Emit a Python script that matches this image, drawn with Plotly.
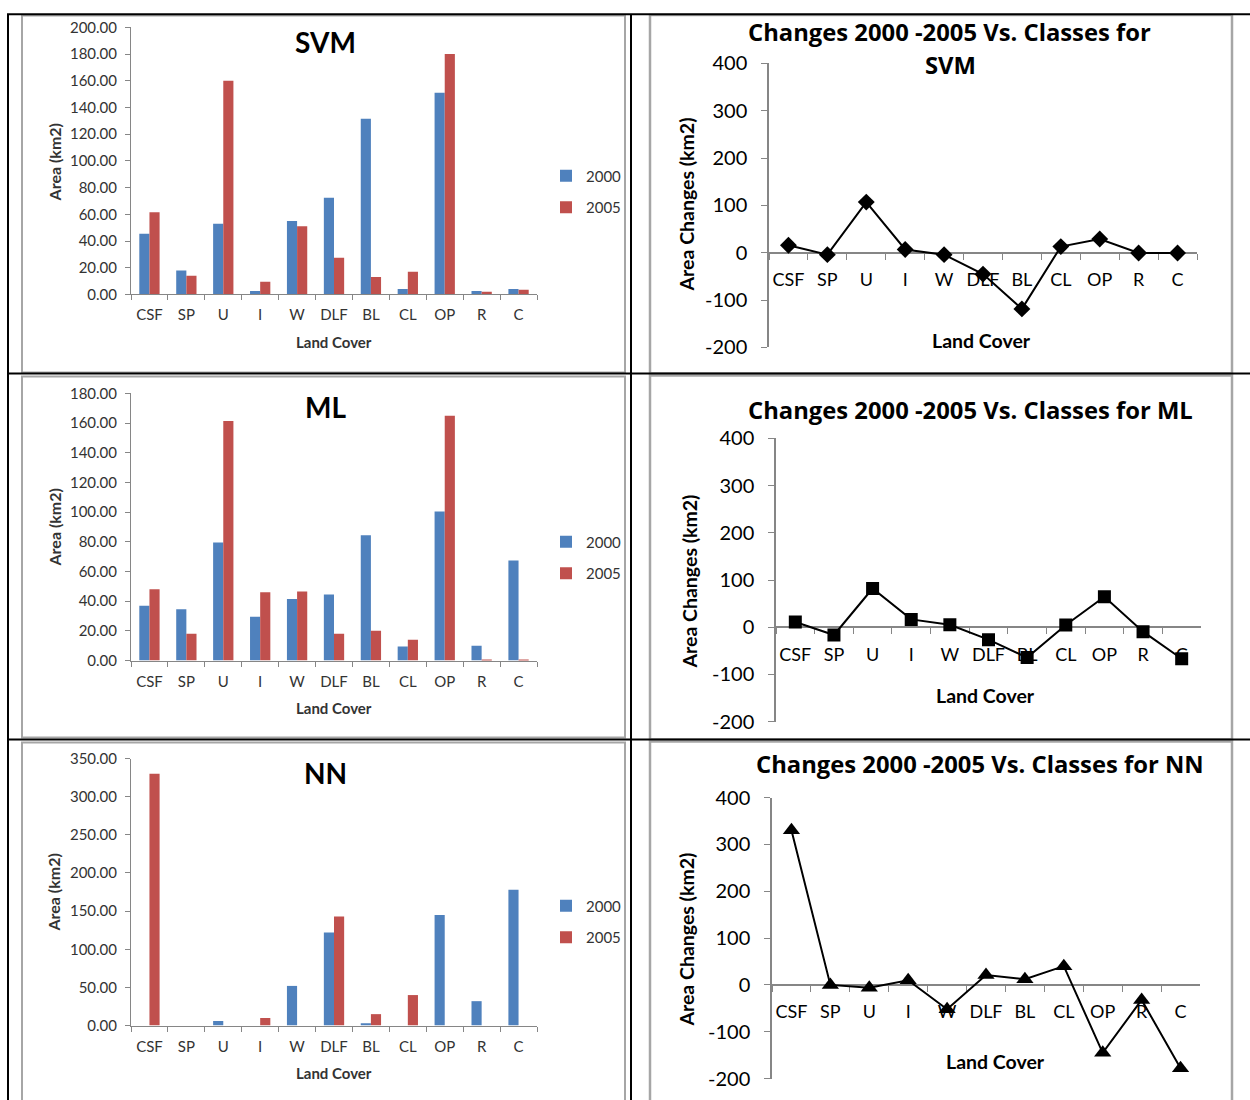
import plotly.graph_objects as go

W, H = 1250, 1100
# measured page placement of the figure in the photographed window
OFF_Y, SCALE_Y = 12.6, 0.978

classes = ["CSF", "SP", "U", "I", "W", "DLF", "BL", "CL", "OP", "R", "C"]

svm_2000 = [45.5, 18.0, 53.0, 2.5, 55.0, 72.5, 131.5, 4.0, 151.0, 2.5, 4.0]
svm_2005 = [61.5, 14.0, 160.0, 9.5, 51.0, 27.5, 13.0, 17.0, 180.0, 2.0, 3.5]
ml_2000 = [37.0, 34.5, 79.5, 29.5, 41.5, 44.5, 84.5, 9.5, 100.5, 10.0, 67.5]
ml_2005 = [48.0, 18.0, 161.5, 46.0, 46.5, 18.0, 20.0, 14.0, 165.0, 0.5, 0.5]
nn_2000 = [0.0, 0.0, 6.0, 0.0, 52.0, 122.0, 3.0, 0.0, 145.0, 32.0, 178.0]
nn_2005 = [330.0, 0.0, 0.0, 10.0, 0.0, 143.0, 15.0, 40.0, 0.0, 0.0, 0.0]

svm_change = [16.0, -4.0, 107.0, 7.0, -4.0, -45.0, -118.5, 13.0, 29.0, -0.5, -0.5]
ml_change = [11.0, -16.5, 82.0, 16.5, 5.0, -26.5, -64.5, 4.5, 64.5, -9.5, -67.0]
nn_change = [330.0, 0.0, -6.0, 10.0, -52.0, 21.0, 12.0, 40.0, -145.0, -32.0, -178.0]

change_ticks = [-200, -100, 0, 100, 200, 300, 400]
change_ticktext = ["-200", "-100", "0", "100", "200", "300", "400"]

FONT = "Lato"
TFONT = "Open Sans"
BLUE = "#4F81BD"
RED = "#C0504D"
AX = "#868686"


def px_x(x):
    return x / W


def px_y(y):
    return 1 - ((y - OFF_Y) / SCALE_Y) / H


fig = go.Figure()

bar_sets = [
    ("SVM", svm_2000, svm_2005, [0, 200], 20, (27, 294), "legend", 191),
    ("ML", ml_2000, ml_2005, [0, 180], 20, (393, 660), "legend2", 557),
    ("NN", nn_2000, nn_2005, [0, 350], 50, (758, 1025), "legend3", 921),
]
line_sets = [
    ("SVM", svm_change, "diamond", 13, (769, 1197), (63, 347)),
    ("ML", ml_change, "square", 13, (776, 1201), (438, 721)),
    ("NN", nn_change, "triangle-up", 15, (772, 1200), (797, 1078)),
]

layout = dict(
    width=W, height=H, autosize=False,
    margin=dict(l=0, r=0, t=0, b=0),
    paper_bgcolor="white", plot_bgcolor="white",
    barmode="group", bargap=0.45, bargroupgap=0.0,
    font=dict(family=FONT, color="#333333"),
    showlegend=True,
)

annotations = []


def note(text, x, y, size, color="black", angle=0, family=FONT):
    return dict(text=text, x=px_x(x), y=px_y(y), xref="paper", yref="paper",
                xanchor="center", yanchor="middle", showarrow=False,
                textangle=angle, font=dict(family=family, size=size, color=color))


for i, (name, a, b, yr, dt, (y0, y1), leg, legy) in enumerate(bar_sets):
    n = 2 * i + 1
    xa, ya = f"x{n}", f"y{n}"
    fig.add_trace(go.Bar(x=classes, y=a, name="2000", marker_color=BLUE,
                         marker_line_width=0, xaxis=xa, yaxis=ya,
                         legend=leg, legendgroup=f"a{i}"))
    fig.add_trace(go.Bar(x=classes, y=b, name="2005", marker_color=RED,
                         marker_line_width=0, xaxis=xa, yaxis=ya,
                         legend=leg, legendgroup=f"b{i}"))
    layout[f"xaxis{n}"] = dict(
        domain=[px_x(131), px_x(537)], anchor=ya, type="category",
        range=[-0.5, 10.5], showline=True, linecolor=AX, linewidth=1,
        ticks="outside", tickson="boundaries", ticklen=5, tickcolor=AX,
        tickangle=0,
        tickfont=dict(family=FONT, size=15, color="#333333"),
        ticklabelstandoff=7, showgrid=False, zeroline=False, fixedrange=True)
    layout[f"yaxis{n}"] = dict(
        domain=[px_y(y1), px_y(y0)], anchor=xa, range=yr, dtick=dt,
        tick0=0, tickformat=".2f", showline=True, linecolor=AX, linewidth=1,
        ticks="outside", ticklen=5, tickcolor=AX,
        tickfont=dict(family=FONT, size=15, color="#333333"),
        ticklabelstandoff=5, showgrid=False, zeroline=False, fixedrange=True)
    layout[leg] = dict(
        x=px_x(546), y=px_y(legy), xanchor="left", yanchor="middle",
        bgcolor="rgba(0,0,0,0)", traceorder="grouped", tracegroupgap=9,
        font=dict(family=FONT, size=15, color="#333333"), itemwidth=30)
    annotations.append(note(f"<b>{name}</b>", 325, [42, 407, 772][i], 28))
    annotations.append(note("<b>Area (km2)</b>", 54, [162, 527, 892][i], 16,
                            "#333333", -90))
    annotations.append(note("<b>Land Cover</b>", 334, [342, 707, 1072][i], 15,
                            "#333333"))

for i, (name, vals, sym, msize, (x0, x1), (y0, y1)) in enumerate(line_sets):
    n = 2 * i + 2
    xa, ya = f"x{n}", f"y{n}"
    fig.add_trace(go.Scatter(x=classes, y=vals, mode="lines+markers",
                             line=dict(color="black", width=2),
                             marker=dict(symbol=sym, size=msize, color="black"),
                             xaxis=xa, yaxis=ya, showlegend=False))
    d0, d1 = px_y(y1), px_y(y0)
    yr = [-200, 400]
    zpos = d0 + (0 - yr[0]) / (yr[1] - yr[0]) * (d1 - d0)
    layout[f"xaxis{n}"] = dict(
        domain=[px_x(x0), px_x(x1)], anchor="free", position=zpos,
        type="category", range=[-0.5, 10.5], showline=True, linecolor=AX,
        linewidth=1.5, ticks="outside", tickson="boundaries", ticklen=6,
        tickcolor=AX, tickangle=0,
        tickfont=dict(family=FONT, size=18, color="black"),
        ticklabelstandoff=11, showgrid=False, zeroline=False,
        layer="below traces", fixedrange=True)
    layout[f"yaxis{n}"] = dict(
        domain=[d0, d1], anchor=xa, range=yr, tickvals=change_ticks,
        ticktext=change_ticktext, showline=True, linecolor=AX, linewidth=1.5,
        ticks="outside", ticklen=6, tickcolor=AX,
        tickfont=dict(family=FONT, size=20, color="black"),
        ticklabelstandoff=10, showgrid=False, zeroline=False, fixedrange=True)
    annotations.append(note("<b>Area Changes (km2)</b>", [686, 690, 687][i],
                            [204, 581, 939][i], 19.5, "black", -90))
    annotations.append(note("<b>Land Cover</b>", [981, 986, 996][i],
                            [340, 695, 1061][i], 19.5))

annotations += [
    note("<b>Changes 2000 -2005 Vs. Classes for</b>", 949, 32, 23.8, family=TFONT),
    note("<b>SVM</b>", 950, 65, 23.8, family=TFONT),
    note("<b>Changes 2000 -2005 Vs. Classes for ML</b>", 970, 410, 23.8, family=TFONT),
    note("<b>Changes 2000 -2005 Vs. Classes for NN</b>", 980, 763, 23.8, family=TFONT),
]

layout["annotations"] = annotations

# panel frames
shapes = []
GRAY = "#A6A6A6"


def rect(x0, y0, x1, y1, color, w):
    return dict(type="rect", xref="paper", yref="paper",
                x0=px_x(x0), x1=px_x(x1), y0=px_y(y1), y1=px_y(y0),
                line=dict(color=color, width=w), fillcolor="rgba(0,0,0,0)",
                layer="below")


def line(x0, y0, x1, y1, color, w):
    return dict(type="line", xref="paper", yref="paper",
                x0=px_x(x0), x1=px_x(x1), y0=px_y(y0), y1=px_y(y1),
                line=dict(color=color, width=w), layer="below")


shapes += [
    rect(22, 15, 625, 372, GRAY, 2),
    rect(22, 376, 625, 737, GRAY, 2),
    rect(22, 742, 625, 1120, GRAY, 2),
    rect(650, 14.5, 1232, 373, GRAY, 2.5),
    rect(650, 375, 1232, 739, GRAY, 2.5),
    rect(650, 741, 1232, 1120, GRAY, 2.5),
    line(7, 13.8, 1250, 13.8, "black", 2),
    line(7, 373, 1250, 373, "black", 2),
    line(7, 739, 1250, 739, "black", 2),
    line(8, 13.8, 8, 1120, "black", 2),
    line(631, 13.8, 631, 1120, "black", 2),
]
layout["shapes"] = shapes

fig.update_layout(**layout)
fig.write_html(
    "out.html",
    config={"displayModeBar": False},
    post_script="document.body.style.margin='0px';document.body.style.overflow='hidden';",
)
